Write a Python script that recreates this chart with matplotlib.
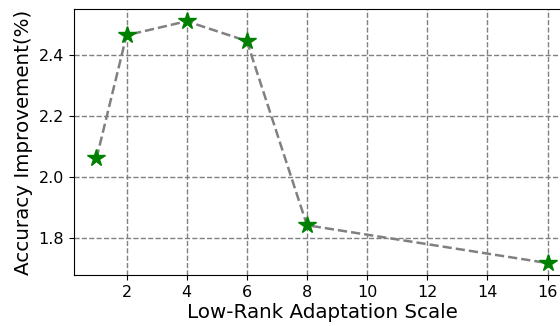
import matplotlib
matplotlib.use("Agg")
import matplotlib.pyplot as plt

scales = [1, 2, 4, 6, 8, 16]
improvement = [2.061, 2.465, 2.511, 2.446, 1.842, 1.718]

fig = plt.figure(figsize=(5.6, 3.26), dpi=100)
ax = fig.add_axes([0.132, 0.156, 0.886, 0.816])

ax.plot(scales, improvement, color="grey", linestyle="--", linewidth=1.8,
        marker="*", markersize=13, markerfacecolor="green", markeredgecolor="green")
ax.set_xticks([2, 4, 6, 8, 10, 12, 14, 16])
ax.set_yticks([1.8, 2.0, 2.2, 2.4])
ax.tick_params(labelsize=11.5)
ax.grid(True, linestyle="--", color="grey", linewidth=1)
ax.set_axisbelow(True)
ax.set_xlabel("Low-Rank Adaptation Scale", fontsize=14.3, labelpad=2)
ax.set_ylabel("Accuracy Improvement(%)", fontsize=14.3)

fig.savefig("out.png", dpi=100)
